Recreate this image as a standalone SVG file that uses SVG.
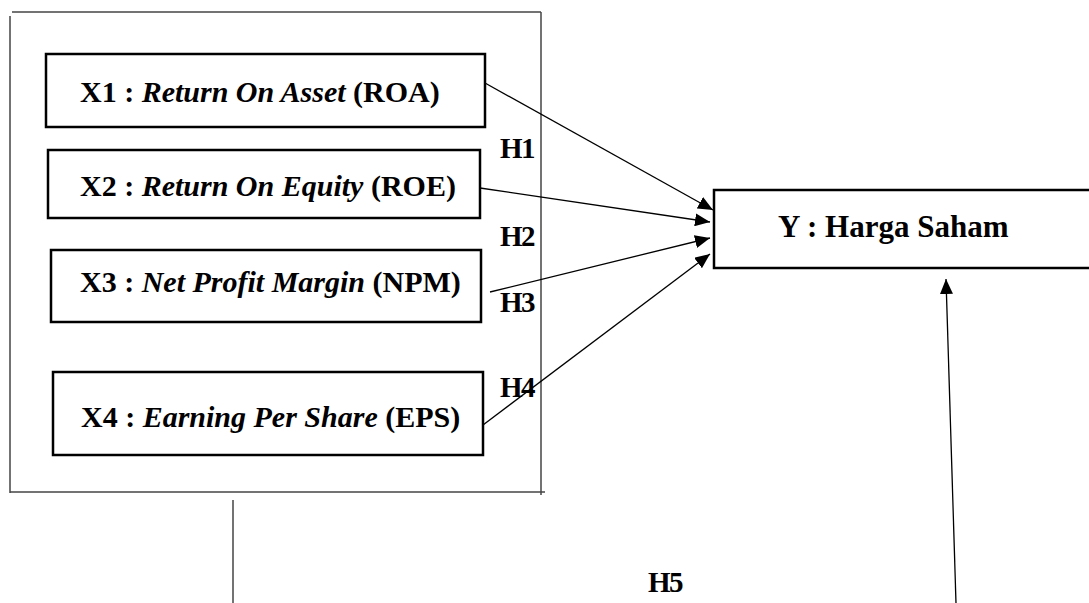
<svg xmlns="http://www.w3.org/2000/svg" width="1089" height="603" viewBox="0 0 1089 603">
  <style>
    .frame { fill: none; stroke: #444; stroke-width: 1.5; }
    .box { fill: #fff; stroke: #000; stroke-width: 2.5; }
    .label { font-family: "Liberation Serif", "Times New Roman", serif; font-size: 30px; font-weight: bold; fill: #000; }
    .label .it { font-style: italic; }
    .big { font-size: 31px; }
    .hyp { font-family: "Liberation Serif", "Times New Roman", serif; font-size: 29px; font-weight: bold; fill: #000; letter-spacing: -1.5px; }
    .link { fill: none; stroke: #000; stroke-width: 1.3; }
    .plain { fill: none; stroke: #444; stroke-width: 1.5; }
  </style>
  <defs>
    <marker id="head" viewBox="0 0 15 13" refX="15" refY="6.5" markerWidth="15" markerHeight="13" markerUnits="userSpaceOnUse" orient="auto">
      <path d="M0,0 L15,6.5 L0,13 Z" fill="#000"/>
    </marker>
  </defs>

  <rect width="1089" height="603" fill="#fff"/>

  <!-- Frame grouping the independent variables -->
  <g id="frame">
    <line class="frame" x1="12" y1="12" x2="541" y2="12"/>
    <line class="frame" x1="10" y1="16" x2="10" y2="493"/>
    <line class="frame" x1="541" y1="12" x2="541" y2="495"/>
    <line class="frame" x1="10" y1="492" x2="545" y2="492"/>
  </g>

  <g id="x1">
    <rect class="box" x="46" y="54" width="439" height="73"/>
    <text class="label" x="80" y="102">X1 : <tspan class="it">Return On Asset</tspan> (ROA)</text>
  </g>
  <g id="x2">
    <rect class="box" x="48" y="150" width="432" height="68"/>
    <text class="label" x="80" y="196">X2 : <tspan class="it">Return On Equity</tspan> (ROE)</text>
  </g>
  <g id="x3">
    <rect class="box" x="51" y="250" width="430" height="72"/>
    <text class="label" x="80" y="292">X3 : <tspan class="it">Net Profit Margin</tspan> (NPM)</text>
  </g>
  <g id="x4">
    <rect class="box" x="53" y="372" width="430" height="83"/>
    <text class="label" x="81" y="427">X4 : <tspan class="it">Earning Per Share</tspan> (EPS)</text>
  </g>

  <g id="y">
    <rect class="box" x="714" y="190" width="385" height="78"/>
    <text class="label big" x="778" y="237">Y : Harga Saham</text>
  </g>

  <g id="connectors">
    <line class="link" x1="485" y1="83" x2="713" y2="210" marker-end="url(#head)"/>
    <line class="link" x1="480" y1="188" x2="710" y2="222" marker-end="url(#head)"/>
    <line class="link" x1="490" y1="292" x2="710" y2="238" marker-end="url(#head)"/>
    <line class="link" x1="483" y1="425" x2="710" y2="254" marker-end="url(#head)"/>
    <line class="plain" x1="233" y1="500" x2="233" y2="603"/>
    <line class="link" x1="956" y1="603" x2="946" y2="279" marker-end="url(#head)"/>
  </g>

  <g id="hypotheses">
    <text class="hyp" x="500" y="158">H1</text>
    <text class="hyp" x="500" y="246">H2</text>
    <text class="hyp" x="500" y="312">H3</text>
    <text class="hyp" x="500" y="397">H4</text>
    <text class="hyp" x="648" y="592">H5</text>
  </g>
</svg>
